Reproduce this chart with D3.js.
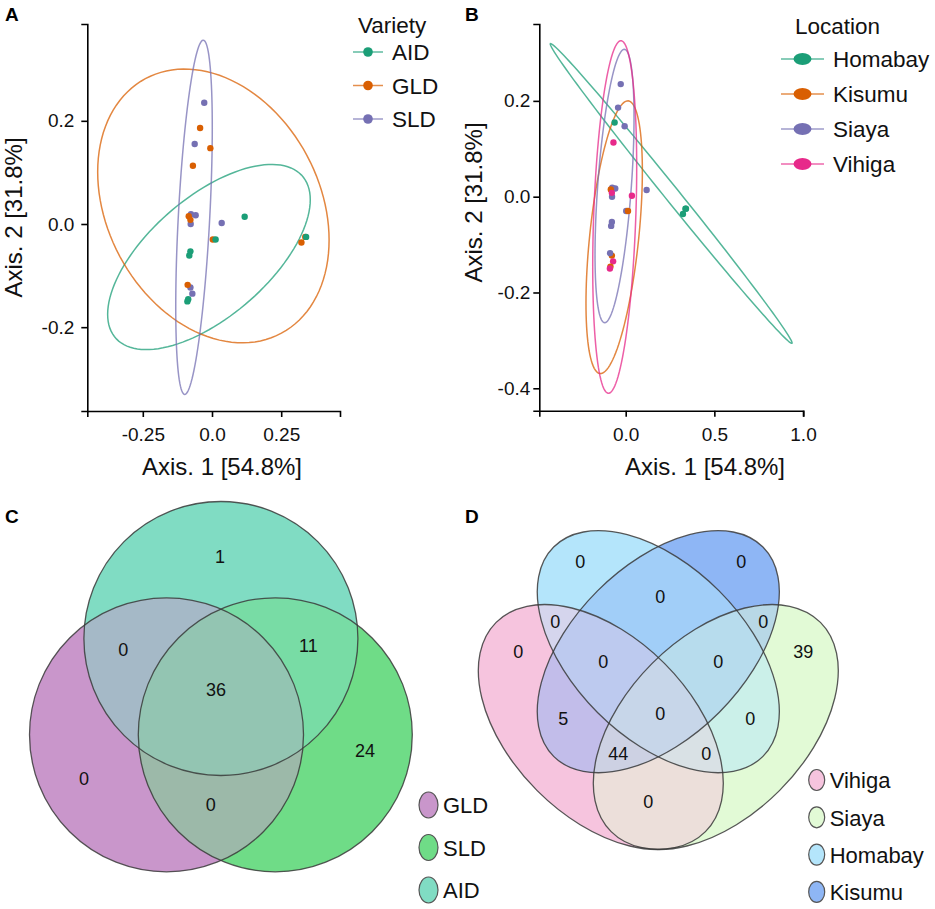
<!DOCTYPE html>
<html lang="en">
<head>
<meta charset="UTF-8" />
<title>PCoA and Venn diagrams</title>
<style>
  body { margin: 0; background: #fff; }
  svg { font-family: "Liberation Sans", Arial, Helvetica, sans-serif; }
  .axis path, .axis line { stroke: #000; stroke-width: 1.6; }
  .axis text { font-size: 19px; fill: #111; font-family: "Liberation Sans", Arial, sans-serif; }
  .title { font-size: 24px; fill: #111; }
  .legend text { font-size: 22.5px; fill: #111; }
  .panel { font-size: 19px; font-weight: bold; }
  .venn text { font-size: 18px; fill: #111; }
  .vleg text { font-size: 22px; fill: #111; }
</style>
</head>
<body>
<svg width="935" height="909"></svg>
<script src="https://d3js.org/d3.v7.min.js"></script>
<script>
const svg = d3.select("svg");

// PCoA samples
const sampleAxis1 = [-0.028, -0.0625, -0.076, -0.059, -0.077, 0.035, -0.078, -0.071,
  -0.043, -0.006, -0.069, -0.084, -0.078, 0.003, 0.337, 0.323, -0.088,
  0.118, 0.013, 0.340, -0.078, -0.082, -0.086, -0.089];
const sampleAxis2 = [0.235, 0.155, 0.019, 0.017, 0.000, 0.002, -0.123, -0.135,
  0.186, 0.147, 0.113, 0.015, 0.008, -0.030, -0.025, -0.036, -0.118,
  0.014, -0.030, -0.025, -0.053, -0.061, -0.146, -0.150];
const sampleVariety = ["SLD", "SLD", "SLD", "SLD", "SLD", "SLD", "SLD", "SLD",
  "GLD", "GLD", "GLD", "GLD", "GLD", "GLD", "GLD", "GLD", "GLD",
  "AID", "AID", "AID", "AID", "AID", "AID", "AID"];
const sampleLocation = ["Siaya", "Homabay", "Siaya", "Siaya", "Siaya", "Vihiga", "Kisumu", "Vihiga",
  "Siaya", "Siaya", "Vihiga", "Kisumu", "Vihiga", "Siaya", "Homabay", "Homabay", "Siaya",
  "Siaya", "Kisumu", "Homabay", "Siaya", "Siaya", "Kisumu", "Vihiga"];

const varieties = ["AID", "GLD", "SLD"];
const locations = ["Homabay", "Kisumu", "Siaya", "Vihiga"];
// ellipse per group: [centre x, centre y, half width, y offset of rightmost point, half height at centre]
const varietyEllipses = [
  [-0.011, -0.064, 0.366, 0.111, 0.141],
  [0.005, 0.035, 0.418, -0.066, 0.257],
  [-0.065, 0.013, 0.066, 0.174, 0.296]
];
const locationEllipses = [
  [0.2565, 0.0067, 0.682, -0.312, 0.024],
  [-0.065, -0.0846, 0.159, 0.138, 0.249],
  [-0.063, 0.0223, 0.110, 0.1434, 0.2468],
  [-0.062, -0.0424, 0.124, 0.104, 0.353]
];
const ticksA1 = [-0.25, 0, 0.25], tickLabelsA1 = ["-0.25", "0.0", "0.25"];
const ticksA2 = [-0.2, 0, 0.2];
const ticksB1 = [0, 0.5, 1];
const ticksB2 = [-0.4, -0.2, 0, 0.2];

// Venn data
const vennCSets = ["GLD", "SLD", "AID"];
const vennCRegions = [[0], [1], [2], [0, 1], [0, 2], [1, 2], [0, 1, 2]];
const vennCCounts = [0, 24, 1, 0, 0, 11, 36];
const vennDSets = ["Vihiga", "Siaya", "Homabay", "Kisumu"];
const vennDRegions = [[0], [1], [2], [3], [0, 1], [0, 2], [0, 3], [1, 2], [1, 3], [2, 3],
  [0, 1, 2], [0, 1, 3], [0, 2, 3], [1, 2, 3], [0, 1, 2, 3]];
const vennDCounts = [0, 39, 0, 0, 0, 0, 5, 0, 0, 0, 0, 44, 0, 0, 0];

const samples = sampleAxis1.map((x, i) => ({
  x, y: sampleAxis2[i], variety: sampleVariety[i], location: sampleLocation[i]
}));

const fmt1 = d => d.toFixed(1);

function ellipsePath(e, x, y) {
  const [cx, cy, rx, dy, h] = e;
  const pts = d3.range(0, 360, 3).map(t => {
    const a = t * Math.PI / 180;
    return [x(cx + rx * Math.cos(a)), y(cy + dy * Math.cos(a) + h * Math.sin(a))];
  });
  return d3.line().curve(d3.curveLinearClosed)(pts);
}

function scatter(opt) {
  const { x, y, groups, colors, ellipses, key, title, legX, legY, legStep, lineX, keyRx, keyRy } = opt;
  const g = svg.append("g");
  g.append("g").attr("class", "axis")
    .attr("transform", `translate(0,${y.range()[0]})`)
    .call(d3.axisBottom(x).tickValues(opt.xTicks).tickFormat(opt.xFormat)
      .tickSizeOuter(0).tickSize(6).tickPadding(11));
  g.append("g").attr("class", "axis")
    .attr("transform", `translate(${x.range()[0]},0)`)
    .call(d3.axisLeft(y).tickValues(opt.yTicks).tickFormat(fmt1)
      .tickSizeOuter(0).tickSize(6).tickPadding(opt.yPad));

  g.selectAll("path.ell").data(ellipses).join("path")
    .attr("class", "ell")
    .attr("d", e => ellipsePath(e, x, y))
    .attr("fill", "none")
    .attr("stroke", (e, i) => colors[i])
    .attr("stroke-opacity", 0.75)
    .attr("stroke-width", 1.5);

  g.selectAll("circle.pt").data(samples).join("circle")
    .attr("class", "pt")
    .attr("cx", d => x(d.x)).attr("cy", d => y(d.y)).attr("r", 3.2)
    .attr("fill", d => colors[groups.indexOf(d[key])]);

  g.append("text").attr("class", "title")
    .attr("x", opt.xTitle[0]).attr("y", opt.xTitle[1])
    .attr("text-anchor", "middle").text("Axis. 1 [54.8%]");
  g.append("text").attr("class", "title")
    .attr("transform", `translate(${opt.yTitle[0]},${opt.yTitle[1]}) rotate(-90)`)
    .attr("text-anchor", "middle").text("Axis. 2 [31.8%]");

  const leg = g.append("g").attr("class", "legend");
  leg.append("text").attr("class", "title").attr("x", legX).attr("y", legY).text(title);
  const item = leg.selectAll("g").data(groups).join("g")
    .attr("transform", (d, i) => `translate(0,${opt.legTop + i * legStep})`);
  item.append("line").attr("x1", lineX[0]).attr("x2", lineX[1])
    .attr("stroke", (d, i) => colors[i]).attr("stroke-opacity", 0.7).attr("stroke-width", 1.5);
  item.append("ellipse").attr("cx", (lineX[0] + lineX[1]) / 2).attr("rx", keyRx).attr("ry", keyRy)
    .attr("fill", (d, i) => colors[i]);
  item.append("text").attr("x", lineX[1] + 9).attr("dy", "0.36em").text(d => d);
}

// Panel A
scatter({
  x: d3.scaleLinear().domain([-0.4505, 0.4624]).range([87.3, 340]),
  y: d3.scaleLinear().domain([-0.3625, 0.3877]).range([411, 24]),
  xTicks: ticksA1, xFormat: (d, i) => tickLabelsA1[i], yTicks: ticksA2, yPad: 7,
  groups: varieties, colors: ["#1b9e77", "#d95f02", "#7570b3"], ellipses: varietyEllipses,
  key: "variety", title: "Variety", legX: 358, legY: 33, legTop: 52, legStep: 33.5,
  lineX: [353, 383], keyRx: 4.8, keyRy: 4.8,
  xTitle: [222, 475], yTitle: [22, 217.5]
});

// Panel B
scatter({
  x: d3.scaleLinear().domain([-0.4873, 1.0017]).range([539.3, 803.3]),
  y: d3.scaleLinear().domain([-0.4468, 0.3605]).range([410.7, 24]),
  xTicks: ticksB1, xFormat: fmt1, yTicks: ticksB2, yPad: 3,
  groups: locations, colors: ["#1b9e77", "#d95f02", "#7570b3", "#e7298a"], ellipses: locationEllipses,
  key: "location", title: "Location", legX: 795, legY: 34, legTop: 59, legStep: 35,
  lineX: [781, 824], keyRx: 9, keyRy: 6,
  xTitle: [705, 475], yTitle: [482, 202.5]
});

// Venn helpers
function avgColor(cols) {
  const c = cols.map(d => d3.rgb(d));
  return d3.rgb(d3.mean(c, d => d.r), d3.mean(c, d => d.g), d3.mean(c, d => d.b)).formatHex();
}

function addShape(sel, s, sx, sy) {
  const k = sx(1) - sx(0);
  const cx = sx(s.cx), cy = sy(s.cy);
  return sel.append("ellipse").attr("cx", cx).attr("cy", cy)
    .attr("rx", s.a * k).attr("ry", s.b * k)
    .attr("transform", `rotate(${s.rot},${cx},${cy})`);
}

function venn(opt) {
  const { id, sets, regions, counts, colors, shapes, labelPos, sx, sy } = opt;
  const g = svg.append("g").attr("class", "venn");
  const defs = g.append("defs");
  shapes.forEach((s, i) => addShape(defs.append("clipPath").attr("id", id + i), s, sx, sy));
  // paint each region as the intersection of its sets, larger intersections on top
  d3.range(regions.length).sort((a, b) => regions[a].length - regions[b].length).forEach(r => {
    const m = regions[r];
    let host = g;
    m.slice(0, -1).forEach(j => { host = host.append("g").attr("clip-path", `url(#${id}${j})`); });
    addShape(host, shapes[m[m.length - 1]], sx, sy).attr("fill", avgColor(m.map(j => colors[j])));
  });
  shapes.forEach(s => addShape(g, s, sx, sy).attr("fill", "none")
    .attr("stroke", "#3a3a3a").attr("stroke-opacity", 0.85).attr("stroke-width", 1.3));
  g.selectAll("text.n").data(counts).join("text")
    .attr("class", "n")
    .attr("x", (d, i) => sx(labelPos[i][0])).attr("y", (d, i) => sy(labelPos[i][1]))
    .attr("text-anchor", "middle").attr("dy", "0.36em").text(d => d);

  const leg = svg.append("g").attr("class", "vleg");
  const item = leg.selectAll("g").data(sets).join("g")
    .attr("transform", (d, i) => `translate(${opt.legX},${opt.legTop + i * opt.legStep})`);
  item.append("ellipse").attr("rx", opt.keyRx).attr("ry", opt.keyRy)
    .attr("fill", (d, i) => colors[i]).attr("stroke", "#555").attr("stroke-width", 1.2);
  item.append("text").attr("x", opt.keyRx + 5).attr("dy", "0.38em").text(d => d);
}

// Panel C: circles of unit radius
venn({
  id: "vc", sets: vennCSets, regions: vennCRegions, counts: vennCCounts,
  colors: ["#c996cb", "#6fdc87", "#80dcc3"],
  shapes: [
    { cx: -0.397, cy: 0, a: 1, b: 1, rot: 0 },
    { cx: 0.397, cy: 0, a: 1, b: 1, rot: 0 },
    { cx: 0, cy: 0.703, a: 1, b: 1, rot: 0 }
  ],
  labelPos: [[-1.0, -0.318], [1.052, -0.118], [-0.007, 1.298], [-0.074, -0.507],
    [-0.712, 0.619], [0.638, 0.655], [-0.036, 0.327]],
  sx: d3.scaleLinear().domain([0, 1]).range([220.9, 357.9]),
  sy: d3.scaleLinear().domain([0, 1]).range([734.8, 597.8]),
  legX: 428.5, legTop: 805, legStep: 42.5, keyRx: 9.5, keyRy: 13
});

// Panel D: four ellipses
venn({
  id: "vd", sets: vennDSets, regions: vennDRegions, counts: vennDCounts,
  colors: ["#f6c4de", "#e2fad6", "#b4e5fb", "#8eb6f5"],
  shapes: [
    { cx: -0.575, cy: -0.753, a: 1.48, b: 0.90, rot: 45 },
    { cx: 0.575, cy: -0.753, a: 1.48, b: 0.90, rot: -45 },
    { cx: 0, cy: 0, a: 1.48, b: 0.86, rot: 45 },
    { cx: 0, cy: 0, a: 1.48, b: 0.86, rot: -45 }
  ],
  labelPos: [[-1.40, 0], [1.45, 0], [-0.78, 0.90], [0.83, 0.90], [-0.10, -1.50],
    [-1.03, 0.30], [-0.95, -0.67], [0.92, -0.67], [1.05, 0.30], [0.02, 0.55],
    [0.48, -1.02], [-0.40, -1.02], [-0.55, -0.10], [0.60, -0.10], [0.02, -0.62]],
  sx: d3.scaleLinear().domain([0, 1]).range([658.3, 758.3]),
  sy: d3.scaleLinear().domain([0, 1]).range([651.7, 551.7]),
  legX: 816.7, legTop: 780, legStep: 37.3, keyRx: 8, keyRy: 10.5
});

// panel letters
const letters = [["A", 5, 21], ["B", 465, 21], ["C", 5, 523], ["D", 465, 523]];
svg.selectAll("text.panel").data(letters).join("text")
  .attr("class", "panel").attr("x", d => d[1]).attr("y", d => d[2]).text(d => d[0]);
</script>
</body>
</html>
